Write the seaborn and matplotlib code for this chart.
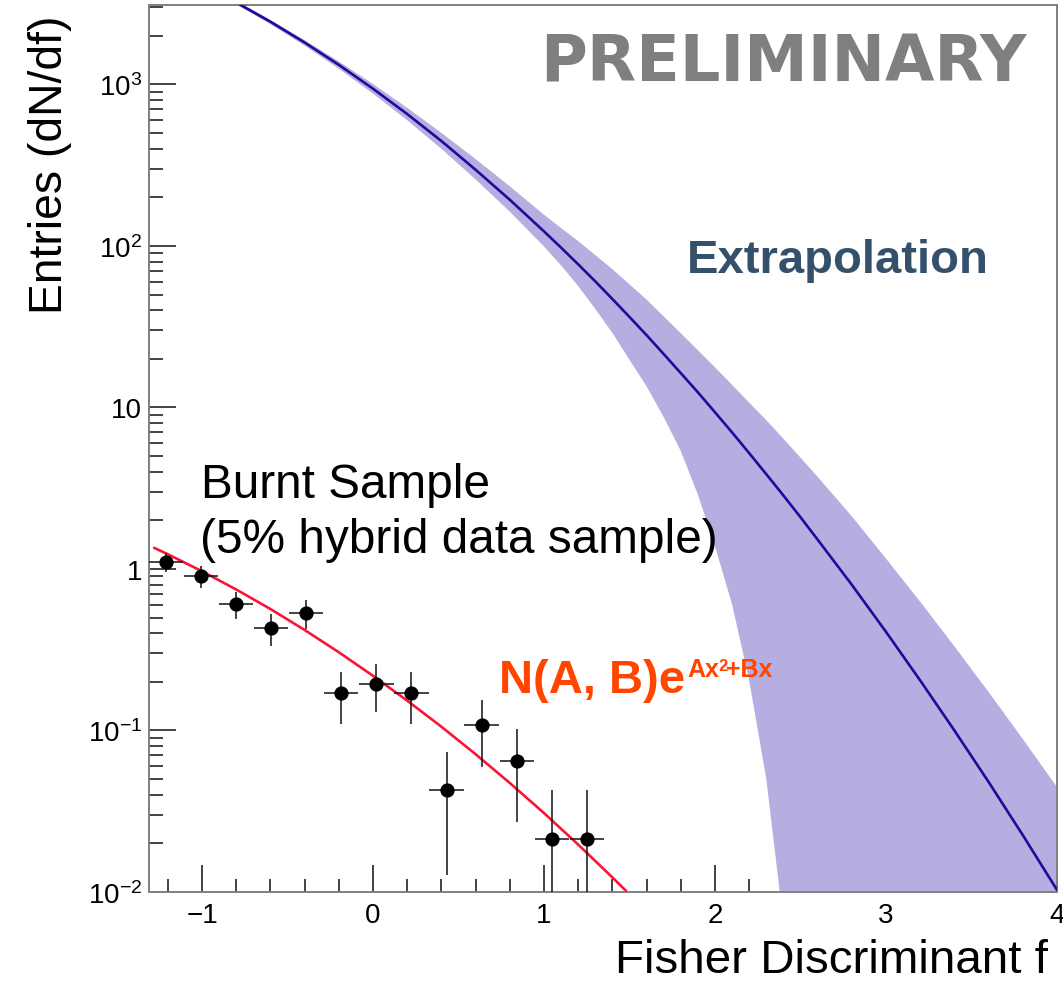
import matplotlib
matplotlib.use('Agg')
import matplotlib.pyplot as plt
import seaborn as sns
import pandas as pd
from matplotlib.ticker import FixedLocator, FixedFormatter, MultipleLocator, LogLocator, NullFormatter

# ---------------- data ----------------
# Burnt sample histogram (dN/df)
bin_centers = [-1.21, -1.005, -0.80, -0.595, -0.39, -0.185, 0.02, 0.225, 0.43, 0.635, 0.84, 1.045, 1.25]
entries = [1.105, 0.901, 0.607, 0.431, 0.534, 0.170, 0.194, 0.170, 0.0429, 0.1075, 0.0644, 0.0213, 0.0213]
err_low = [0.154, 0.139, 0.114, 0.096, 0.107, 0.060, 0.064, 0.060, 0.0302, 0.0479, 0.0371, 0.0212, 0.0212]
err_high = [0.154, 0.139, 0.114, 0.096, 0.107, 0.060, 0.064, 0.060, 0.0302, 0.0479, 0.0371, 0.0213, 0.0213]
bin_halfwidth = [0.1, 0.1, 0.1, 0.1, 0.1, 0.1, 0.1, 0.1, 0.1, 0.1, 0.1, 0.1, 0.1]

# Fit curve N(A,B) exp(Ax^2+Bx) to the burnt sample
fit_x = [-1.28, -1.2, -1.0, -0.8, -0.6, -0.4, -0.2, 0.0, 0.2, 0.4, 0.6, 0.8, 1.0, 1.2, 1.4, 1.48]
fit_y = [1.351, 1.233, 0.968, 0.746, 0.565, 0.419, 0.305, 0.218, 0.153, 0.1055, 0.0713, 0.0473,
         0.0308, 0.01965, 0.01231, 0.01016]

# Extrapolation (central curve and uncertainty band)
extrap_x = [-0.8, -0.6, -0.4, -0.2, 0.0, 0.2, 0.4, 0.6, 0.8, 1.0, 1.1, 1.2, 1.3, 1.4, 1.5, 1.6, 1.7,
            1.8, 1.9, 2.0, 2.1, 2.2, 2.3, 2.4, 2.5, 2.6, 2.8, 3.0, 3.2, 3.4, 3.6, 3.8, 4.0]
extrap_center = [3214, 2443, 1816, 1321, 940, 655, 446, 296, 193, 123, 97.5, 76.9, 60.3, 46.9, 36.3,
                 28.0, 21.4, 16.3, 12.4, 9.33, 7.00, 5.21, 3.86, 2.85, 2.09, 1.52, 0.798, 0.408,
                 0.204, 0.100, 0.048, 0.0225, 0.0103]
extrap_upper = [3289, 2506, 1879, 1387, 1005, 716, 501, 345, 234, 156, 129, 107, 87.7, 71.8, 57.8,
                46.5, 36.6, 28.8, 22.6, 17.7, 13.8, 10.7, 8.34, 6.40, 4.89, 3.72, 2.12, 1.16,
                0.627, 0.332, 0.173, 0.0885, 0.0446]
extrap_lower = [3126, 2360, 1738, 1250, 877, 600, 399, 258, 163, 99.1, 75.7, 56.4, 40.7, 28.9, 19.7,
                13.5, 8.71, 5.37, 2.88, 1.38, 0.603, 0.204, 0.0501, 0.00646, 1e-4, 1e-4, 1e-4, 1e-4,
                1e-4, 1e-4, 1e-4, 1e-4, 1e-4]

y_tick_values = [1e-2, 1e-1, 1, 10, 1e2, 1e3]
y_tick_labels = ['$10^{-2}$', '$10^{-1}$', '1', '10', '$10^{2}$', '$10^{3}$']
x_tick_values = [-1, 0, 1, 2, 3, 4]

# ---------------- style ----------------
sns.set_theme(style='ticks')
plt.rcParams['font.family'] = ['Liberation Sans', 'DejaVu Sans']
plt.rcParams['mathtext.fontset'] = 'custom'
plt.rcParams['mathtext.rm'] = 'Liberation Sans'
plt.rcParams['mathtext.it'] = 'Liberation Sans:italic'
plt.rcParams['mathtext.bf'] = 'Liberation Sans:bold'

W, H = 1063, 987
fig = plt.figure(figsize=(W / 100, H / 100), dpi=100)
ax = fig.add_axes([149 / W, 1 - 893 / H, (1057 - 149) / W, (893 - 6) / H])
ax.set_yscale('log')

band_color = '#b4afe0'
line_color = '#200a9a'
fit_color = '#fc1436'

ax.fill_between(extrap_x, extrap_lower, extrap_upper, color=band_color, linewidth=0, zorder=1)
ext_df = pd.DataFrame({'x': extrap_x, 'y': extrap_center})
sns.lineplot(data=ext_df, x='x', y='y', ax=ax, color=line_color, linewidth=1.9,
             sort=False, errorbar=None, zorder=3)

fit_df = pd.DataFrame({'x': fit_x, 'y': fit_y})
sns.lineplot(data=fit_df, x='x', y='y', ax=ax, color=fit_color, linewidth=1.9,
             sort=False, errorbar=None, zorder=3)

ax.errorbar(bin_centers, entries, yerr=[err_low, err_high], xerr=bin_halfwidth,
            fmt='none', ecolor='#111111', elinewidth=1.1, capsize=0, zorder=4)
data_df = pd.DataFrame({'x': bin_centers, 'y': entries})
sns.scatterplot(data=data_df, x='x', y='y', ax=ax, color='black', s=105, edgecolor='black',
                linewidth=0, zorder=5)

ax.set_xlim(-1.31, 4.0)
ax.set_ylim(0.01, 3100)

ax.xaxis.set_major_locator(FixedLocator(x_tick_values))
ax.xaxis.set_minor_locator(MultipleLocator(0.2))
ax.yaxis.set_major_locator(FixedLocator(y_tick_values))
ax.yaxis.set_major_formatter(FixedFormatter(y_tick_labels))
ax.yaxis.set_minor_locator(LogLocator(base=10, subs=[2, 3, 4, 5, 6, 7, 8, 9], numticks=20))
ax.yaxis.set_minor_formatter(NullFormatter())

ax.tick_params(which='both', direction='in', top=False, right=False, color='#222222', width=1.2,
               labelsize=20, labelcolor='black')
ax.tick_params(axis='y', which='major', length=19.5, pad=5)
ax.tick_params(axis='y', which='minor', length=10)
ax.tick_params(axis='x', which='major', length=19.5, pad=7)
ax.tick_params(axis='x', which='minor', length=9.5)

for sp in ax.spines.values():
    sp.set_color('#808080')
    sp.set_linewidth(1.4)

ax.set_xlabel('')
ax.set_ylabel('')

# axis titles
fig.text(1048 / W, 1 - 973 / H, 'Fisher Discriminant f', fontsize=34.2, ha='right', va='baseline',
         color='black')
fig.text(62 / W, 1 - 15 / H, 'Entries (dN/df)', fontsize=33.3, rotation=90, rotation_mode='anchor',
         ha='right', va='baseline', color='black')

# annotations
fig.text(540 / W, 1 - 82 / H, 'PRELIMINARY', fontsize=46, fontweight='bold', color='#7f7f7f',
         family='DejaVu Sans', va='baseline')
fig.text(687 / W, 1 - 273 / H, 'Extrapolation', fontsize=34, fontweight='bold', color='#34506b',
         va='baseline')
fig.text(201 / W, 1 - 498 / H, 'Burnt Sample', fontsize=34.4, color='black', va='baseline')
fig.text(200 / W, 1 - 553 / H, '(5% hybrid data sample)', fontsize=34.4, color='black', va='baseline')

orange = '#ff4500'
fig.canvas.draw()
renderer = fig.canvas.get_renderer()
t1 = fig.text(499 / W, 1 - 693 / H, 'N(A, B)e', fontsize=34, fontweight='bold', color=orange,
              va='baseline')
bb = t1.get_window_extent(renderer)
t2 = fig.text((bb.x1 + 2) / W, 1 - 677 / H, 'Ax', fontsize=18, fontweight='bold', color=orange,
              va='baseline')
bb = t2.get_window_extent(renderer)
t3 = fig.text((bb.x1 - 1) / W, 1 - 671 / H, '2', fontsize=12, fontweight='bold', color=orange,
              va='baseline')
bb = t3.get_window_extent(renderer)
fig.text((bb.x1 - 1) / W, 1 - 677 / H, '+Bx', fontsize=18, fontweight='bold', color=orange,
         va='baseline')

fig.savefig('out.png', dpi=100)
